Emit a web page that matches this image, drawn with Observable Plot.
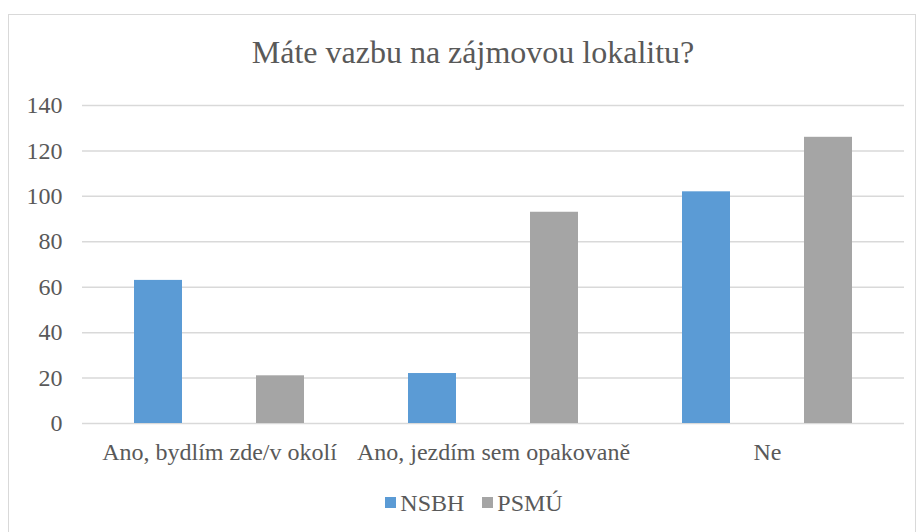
<!DOCTYPE html>
<html>
<head>
<meta charset="utf-8">
<script src="https://cdn.jsdelivr.net/npm/d3@7"></script>
<script src="https://cdn.jsdelivr.net/npm/@observablehq/plot@0.6"></script>
<style>
  html, body { margin: 0; padding: 0; background: #fff; }
  #wrap { position: relative; width: 919px; height: 532px; overflow: hidden; font-family: "Liberation Serif", Tinos, "DejaVu Serif", serif; color: #595959; }
  #frame { position: absolute; left: 8px; top: 14px; width: 908px; height: 540px; border: 1.5px solid #d9d9d9; box-sizing: border-box; }
  #title { position: absolute; left: 0; width: 946px; top: 36px; text-align: center; font-size: 32px; line-height: 1; }
  #chart { position: absolute; left: 0; top: 90px; }
  #legend { position: absolute; left: 0; width: 948px; top: 488px; text-align: center; font-size: 24px; line-height: 1; }
  .item { display: inline-flex; align-items: center; margin: 0 9px; }
  .sw { display: inline-block; width: 11px; height: 11px; margin-right: 4px; }
</style>
</head>
<body>
<div id="wrap">
  <div id="frame"></div>
  <div id="title"></div>
  <div id="chart"></div>
  <div id="legend"></div>
</div>
<script>
const titleText = "Máte vazbu na zájmovou lokalitu?";
const categories = ["Ano, bydlím zde/v okolí", "Ano, jezdím sem opakovaně", "Ne"];
const seriesNames = ["NSBH", "PSMÚ"];
const nsbhValues = [63, 22, 102];
const psmuValues = [21, 93, 126];
const yTicks = [0, 20, 40, 60, 80, 100, 120, 140];
const colors = ["#5B9BD5", "#A5A5A5"];
const fontStack = "'Liberation Serif', Tinos, 'DejaVu Serif', serif";

const data = [];
categories.forEach((c, i) => {
  data.push({category: c, series: seriesNames[0], value: nsbhValues[i]});
  data.push({category: c, series: seriesNames[1], value: psmuValues[i]});
});

document.getElementById("title").textContent = titleText;

const chart = Plot.plot({
  width: 919,
  height: 380,
  marginLeft: 82,
  marginRight: 15,
  marginTop: 15,
  marginBottom: 47,
  style: {fontFamily: fontStack, fontSize: "24px", color: "#595959", background: "transparent"},
  fx: {domain: categories, padding: 0, label: null, axis: "bottom", tickSize: 0, tickPadding: 19},
  x: {domain: seriesNames, paddingInner: 0.6066, paddingOuter: 0.426, axis: null},
  y: {domain: [0, 140], ticks: yTicks, tickSize: 0, tickPadding: 20, label: null, tickFormat: d => String(d)},
  color: {domain: seriesNames, range: colors},
  marks: [
    Plot.ruleY(yTicks, {stroke: "#d9d9d9", strokeWidth: 1.5, strokeOpacity: 1}),
    Plot.barY(data, {fx: "category", x: "series", y: "value", fill: "series"})
  ]
});
chart.querySelectorAll("text").forEach(t => t.setAttribute("font-family", fontStack));
document.getElementById("chart").appendChild(chart);

const legend = document.getElementById("legend");
seriesNames.forEach((s, i) => {
  const item = document.createElement("span");
  item.className = "item";
  const sw = document.createElement("span");
  sw.className = "sw";
  sw.style.background = colors[i];
  item.appendChild(sw);
  item.appendChild(document.createTextNode(s));
  legend.appendChild(item);
});
</script>
</body>
</html>
